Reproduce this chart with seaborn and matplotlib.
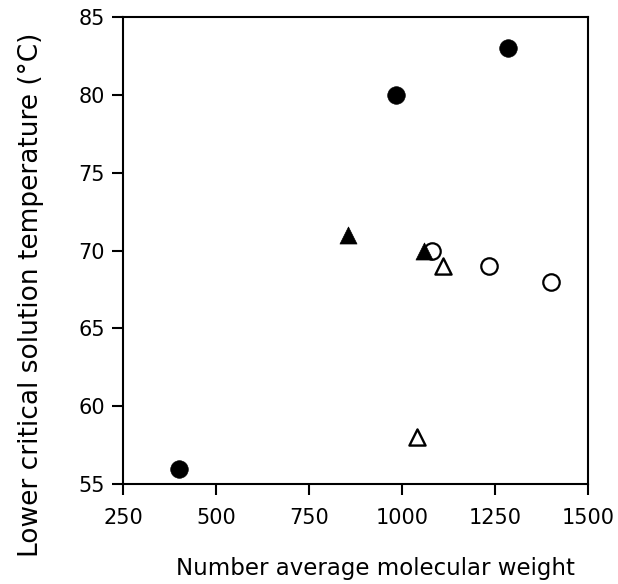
import matplotlib
matplotlib.use("Agg")
import matplotlib.pyplot as plt
import seaborn as sns
import pandas as pd

# molecular weight (Mn) vs LCST, four sample series
filled_circle_mw = [400, 985, 1285]
filled_circle_lcst = [56, 80, 83]
filled_tri_mw = [855, 1060]
filled_tri_lcst = [71, 70]
open_circle_mw = [1080, 1235, 1400]
open_circle_lcst = [70, 69, 68]
open_tri_mw = [1040, 1110]
open_tri_lcst = [58, 69]

x_ticks = [250, 500, 750, 1000, 1250, 1500]
y_ticks = [55, 60, 65, 70, 75, 80, 85]

frames = [
    pd.DataFrame({"mw": open_circle_mw, "lcst": open_circle_lcst, "series": "open circle"}),
    pd.DataFrame({"mw": open_tri_mw, "lcst": open_tri_lcst, "series": "open triangle"}),
    pd.DataFrame({"mw": filled_circle_mw, "lcst": filled_circle_lcst, "series": "filled circle"}),
    pd.DataFrame({"mw": filled_tri_mw, "lcst": filled_tri_lcst, "series": "filled triangle"}),
]

styles = {
    "open circle": dict(marker="o", s=140, facecolor="white", linewidth=1.6),
    "open triangle": dict(marker="^", s=135, facecolor="white", linewidth=1.7),
    "filled circle": dict(marker="o", s=160, facecolor="black", linewidth=0.5),
    "filled triangle": dict(marker="^", s=150, facecolor="black", linewidth=0.5),
}

sns.set_style("ticks")
plt.rcParams["font.family"] = ["DejaVu Sans"]
plt.rcParams["text.color"] = "black"
plt.rcParams["axes.labelcolor"] = "black"
plt.rcParams["xtick.color"] = "black"
plt.rcParams["ytick.color"] = "black"

fig = plt.figure(figsize=(6.18, 5.84), dpi=100)
ax = fig.add_axes([0.1995, 0.171, 0.7515, 0.8])

for df in frames:
    name = df["series"].iloc[0]
    sns.scatterplot(data=df, x="mw", y="lcst", ax=ax, edgecolor="black",
                    legend=False, zorder=3, **styles[name])

ax.set_xlim(250, 1500)
ax.set_ylim(55, 85)
ax.set_xticks(x_ticks)
ax.set_yticks(y_ticks)
ax.tick_params(direction="out", length=8, width=1.5, labelsize=15)
ax.tick_params(axis="x", pad=9)
ax.tick_params(axis="y", pad=5)
for sp in ax.spines.values():
    sp.set_visible(True)
    sp.set_linewidth(1.5)
    sp.set_color("black")

ax.set_xlabel("Number average molecular weight", fontsize=16.5)
ax.set_ylabel("Lower critical solution temperature (°C)", fontsize=19)
ax.xaxis.set_label_coords(0.542, -0.155)
ax.yaxis.set_label_coords(-0.17, 0.405)

fig.savefig("out.png", dpi=100)
plt.close(fig)
